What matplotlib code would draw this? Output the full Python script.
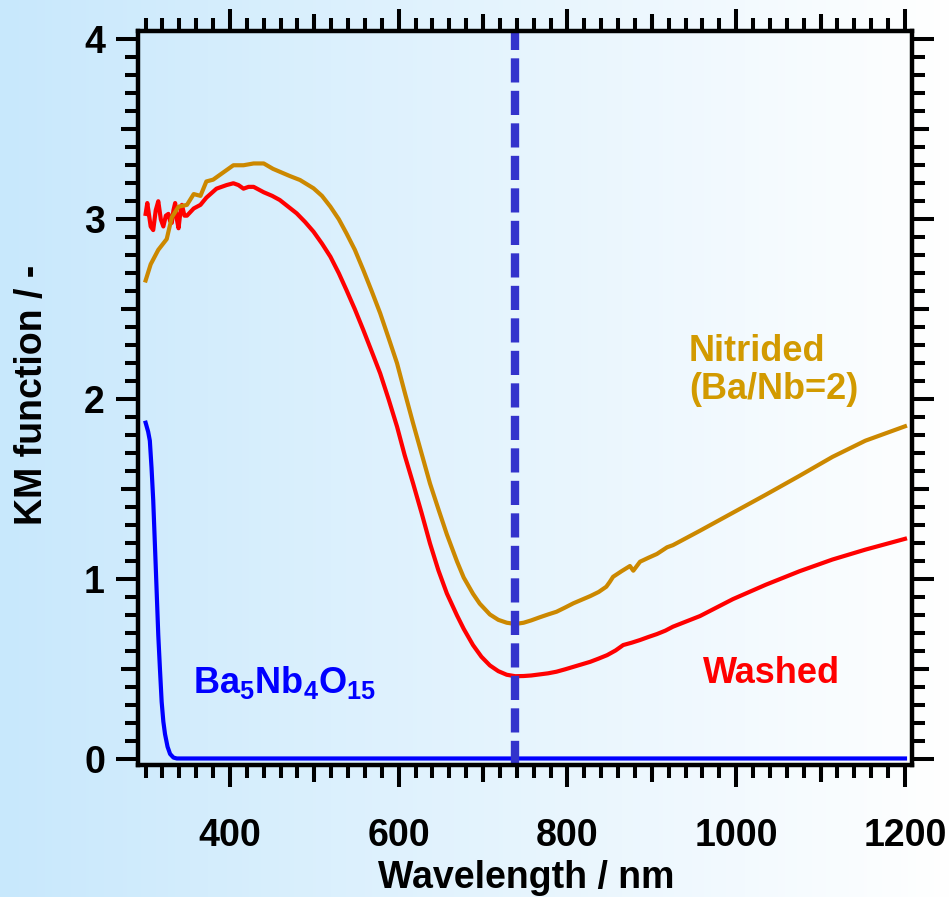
import matplotlib
matplotlib.use("Agg")
import matplotlib.pyplot as plt
import numpy as np
from matplotlib.ticker import MultipleLocator, FixedLocator, NullLocator, NullFormatter

plt.rcParams['font.family'] = ['Liberation Sans', 'DejaVu Sans']
plt.rcParams['font.weight'] = 'bold'
plt.rcParams['mathtext.fontset'] = 'custom'
plt.rcParams['mathtext.bf'] = 'Liberation Sans:bold'
plt.rcParams['mathtext.rm'] = 'Liberation Sans:bold'

# nitrided (Ba/Nb=2)
wl_nitrided = [300, 306, 315, 325, 331, 339, 349, 357, 365, 372, 380, 392, 404, 416,
               428, 440, 451, 459, 471, 483, 499, 509, 519, 529, 538, 548, 558, 568,
               578, 588, 598, 607, 617, 627, 637, 647, 657, 669, 677, 688, 696, 708,
               718, 728, 738, 748, 757, 767, 777, 787, 797, 807, 817, 827, 837, 846,
               850, 854, 864, 874, 878, 886, 896, 906, 918, 925, 957, 996, 1035, 1075,
               1114, 1153, 1200]
km_nitrided = [2.66, 2.75, 2.83, 2.89, 3.01, 3.07, 3.08, 3.14, 3.13, 3.21, 3.22, 3.26, 3.30, 3.30,
               3.31, 3.31, 3.28, 3.264, 3.24, 3.218, 3.172, 3.13, 3.07, 3.00, 2.922, 2.83, 2.718, 2.60,
               2.478, 2.34, 2.20, 2.04, 1.867, 1.70, 1.533, 1.39, 1.25, 1.10, 1.01, 0.92, 0.865, 0.805,
               0.775, 0.759, 0.752, 0.759, 0.772, 0.789, 0.805, 0.82, 0.843, 0.867, 0.887, 0.907, 0.93, 0.959,
               0.985, 1.014, 1.045, 1.074, 1.048, 1.098, 1.12, 1.141, 1.178, 1.19, 1.27, 1.37, 1.47, 1.575,
               1.68, 1.77, 1.85]

# washed
wl_washed = [300, 302, 306, 309, 312, 315, 318, 321, 324, 327, 329, 331, 333, 335, 337, 339,
             341, 343, 346, 349, 357, 365, 372, 384, 396, 404, 410, 416, 422, 428, 440, 450,
             459, 469, 479, 489, 499, 509, 519, 529, 538, 548, 558, 568, 578, 588, 598, 607,
             617, 627, 637, 647, 657, 669, 677, 688, 698, 708, 718, 728, 738, 748, 757, 767,
             777, 787, 797, 807, 817, 827, 837, 847, 857, 866, 876, 886, 896, 906, 916, 925,
             957, 996, 1035, 1075, 1114, 1153, 1200]
km_washed = [3.03, 3.09, 2.96, 2.94, 3.05, 3.10, 3.00, 2.96, 3.02, 3.03, 2.99, 2.98, 3.05, 3.09, 3.00, 2.95,
             3.03, 3.08, 3.02, 3.02, 3.06, 3.08, 3.12, 3.17, 3.19, 3.20, 3.19, 3.17, 3.18, 3.18, 3.15, 3.13,
             3.107, 3.07, 3.033, 2.985, 2.931, 2.865, 2.792, 2.70, 2.607, 2.50, 2.385, 2.265, 2.144, 2.00, 1.848, 1.69,
             1.533, 1.37, 1.20, 1.05, 0.922, 0.80, 0.725, 0.635, 0.57, 0.522, 0.49, 0.47, 0.462, 0.463, 0.466, 0.472,
             0.478, 0.487, 0.50, 0.514, 0.528, 0.542, 0.56, 0.579, 0.605, 0.635, 0.648, 0.663, 0.68, 0.696, 0.715, 0.737,
             0.796, 0.89, 0.97, 1.045, 1.11, 1.165, 1.225]

# Ba5Nb4O15
wl_oxide = [300, 303, 305, 307, 309, 312, 315, 317, 319, 321, 323, 326, 329, 333, 337, 350,
            400, 600, 800, 1000, 1200]
km_oxide = [1.87, 1.82, 1.77, 1.62, 1.44, 1.07, 0.69, 0.50, 0.32, 0.21, 0.14, 0.07, 0.03, 0.01,
            0.005, 0.005, 0.005, 0.005, 0.005, 0.005, 0.005]

edge_wl = 738

fig = plt.figure(figsize=(9.53, 8.97), dpi=100)

# background gradient over whole figure
bg = fig.add_axes([0, 0, 1, 1], zorder=-10)
grad = np.linspace(0, 1, 256)
left_c = np.array([200, 232, 252]) / 255
right_c = np.array([255, 255, 255]) / 255
img = left_c[None, :] * (1 - grad[:, None]) + right_c[None, :] * grad[:, None]
bg.imshow(img[None, :, :], aspect='auto', extent=[0, 1, 0, 1])
bg.axis('off')

ax = fig.add_axes([0.1451, 0.1466, 0.8124, 0.8185])
ax.set_facecolor('none')

ax.plot(wl_oxide, km_oxide, color='#0000FF', lw=3)
ax.plot(wl_washed, km_washed, color='#FF0000', lw=3)
ax.plot(wl_nitrided, km_nitrided, color='#CC8800', lw=3)
ax.axvline(edge_wl, color='#3333CC', lw=6, linestyle=(0, (2.9, 1.0)))

ax.set_xlim(291.3, 1208.9)
ax.set_ylim(-0.034, 4.044)

for s in ax.spines.values():
    s.set_linewidth(3.2)

ax.xaxis.set_major_locator(MultipleLocator(200))
ax.xaxis.set_minor_locator(MultipleLocator(20))
ax.yaxis.set_major_locator(MultipleLocator(1))
ax.yaxis.set_minor_locator(MultipleLocator(0.1))
ax.tick_params(which='both', direction='out', width=2.9, top=True, right=True,
               labeltop=False, labelright=False)
ax.tick_params(which='major', length=16, labelsize=27)
ax.tick_params(which='minor', length=9.5)
ax.tick_params(axis='x', which='major', pad=22)
ax.tick_params(axis='y', which='major', pad=8)

# medium ticks at half steps
for side in ['bottom', 'top']:
    sec = ax.secondary_xaxis(side)
    sec.xaxis.set_major_locator(FixedLocator([500, 700, 900, 1100]))
    sec.xaxis.set_minor_locator(NullLocator())
    sec.xaxis.set_major_formatter(NullFormatter())
    sec.tick_params(direction='out', width=2.9, length=12.5)
    sec.spines[side].set_visible(False)
for side in ['left', 'right']:
    sec = ax.secondary_yaxis(side)
    sec.yaxis.set_major_locator(FixedLocator([0.5, 1.5, 2.5, 3.5]))
    sec.yaxis.set_minor_locator(NullLocator())
    sec.yaxis.set_major_formatter(NullFormatter())
    sec.tick_params(direction='out', width=2.9, length=12.5)
    sec.spines[side].set_visible(False)

fig.text(526 / 953, 1 - 888 / 897, 'Wavelength / nm', fontsize=27, fontweight='bold',
         ha='center', va='baseline')
fig.text(42 / 953, 1 - 395 / 897, 'KM function / -', fontsize=27, fontweight='bold',
         ha='center', va='baseline', rotation=90, rotation_mode='anchor')

ax.text(944, 2.21, 'Nitrided', color='#D29A00', fontsize=26, fontweight='bold',
        ha='left', va='baseline')
ax.text(944, 2.00, '(Ba/Nb=2)', color='#D29A00', fontsize=26, fontweight='bold',
        ha='left', va='baseline')
ax.text(1042, 0.424, 'Washed', color='#FF0000', fontsize=26, fontweight='bold',
        ha='center', va='baseline')
ax.text(356, 0.368, r'$\mathbf{Ba_5Nb_4O_{15}}$', color='#0000FF', fontsize=26,
        ha='left', va='baseline')

fig.savefig('out.png', dpi=100)
